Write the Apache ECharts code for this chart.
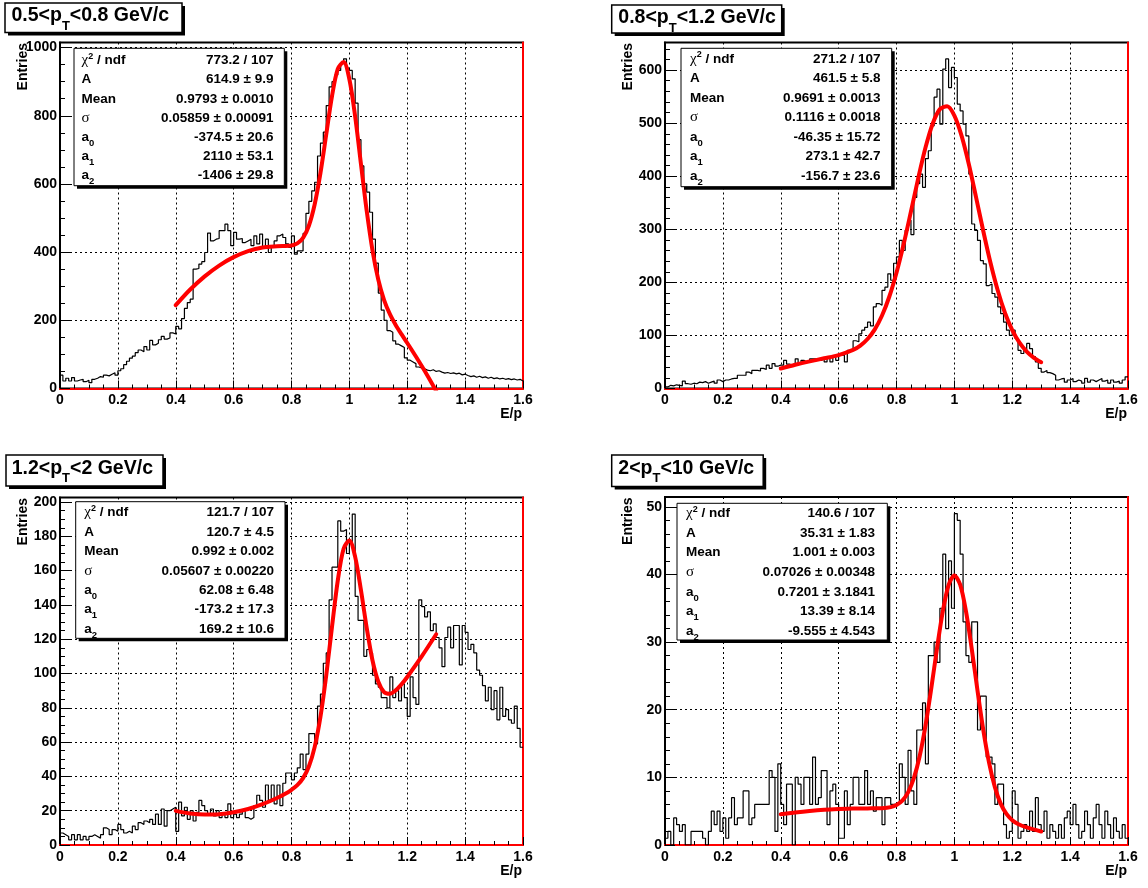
<!DOCTYPE html>
<html><head><meta charset="utf-8">
<script src="https://cdn.jsdelivr.net/npm/echarts@6/dist/echarts.min.js"></script>
<style>html,body{margin:0;padding:0;background:#fff}#c{width:1148px;height:888px}</style>
</head><body><div id="c"></div>
<script>
// ---------------- data ----------------
const BIN_WIDTH = 0.01;          // histogram bin width (160 bins from 0 to 1.6)
const X_MIN = 0, X_MAX = 1.6, X_INTERVAL = 0.2;

const hist1 = [39,22,30,22,32,22,25,27,20,24,
 17,27,30,35,33,39,37,42,46,39,
 52,58,70,80,89,95,105,113,108,123,
 113,141,128,133,143,153,145,148,163,160,
 182,175,205,235,252,262,350,352,365,372,
 399,456,433,438,440,463,463,482,463,419,
 458,438,440,428,433,438,419,448,424,453,
 414,438,399,419,433,448,453,443,424,414,
 448,394,404,404,455,514,549,580,605,682,
 720,752,830,885,900,920,933,953,967,940,
 933,908,837,730,653,600,576,517,438,368,
 280,230,200,170,165,140,130,125,120,90,
 83,78,73,63,60,58,54,52,55,50,
 52,48,45,47,44,46,43,45,40,42,
 38,35,37,33,36,32,34,30,33,29,
 31,28,30,27,29,26,28,25,27,22];

const hist2 = [3,6,5,7,6,5,14,9,8,10,
 9,12,11,13,10,12,14,10,16,13,
 16,16,18,19,19,25,25,25,31,28,
 34,34,33,38,36,44,38,47,42,44,
 44,53,46,44,47,56,47,53,50,50,
 56,56,56,53,56,50,60,50,60,53,
 63,63,50,72,72,90,88,103,110,115,
 125,118,154,160,157,185,191,216,204,236,
 248,279,260,298,317,290,360,386,404,379,
 433,448,495,549,564,498,602,621,567,605,
 586,536,523,498,476,404,310,298,279,241,
 235,194,197,179,172,154,141,125,110,100,
 110,94,72,66,72,85,75,60,50,38,
 31,34,30,28,25,16,18,19,12,16,
 19,13,16,14,10,19,12,16,13,16,
 19,14,16,10,16,12,14,10,16,22];

const hist3 = [7,6,5,3,6,3,6,3,5,3,
 5,6,5,4,6,10,9,6,9,8,
 12,9,7,8,7,11,9,13,12,14,
 13,15,12,18,12,21,11,20,21,22,
 8,25,17,22,15,20,14,19,26,23,
 20,18,21,17,20,16,18,16,24,16,
 18,16,18,20,16,15,16,23,29,26,
 22,35,26,35,24,35,23,36,42,42,
 38,42,45,53,44,53,65,65,59,81,
 88,106,112,143,162,162,189,183,184,170,
 176,193,145,131,131,110,114,112,99,94,
 92,86,86,80,98,86,90,84,94,86,
 75,98,86,82,143,139,133,136,125,129,
 121,115,104,121,127,115,128,128,105,128,
 124,114,117,112,102,99,93,84,92,79,
 90,73,92,75,79,73,71,81,68,57];

const hist4 = [1,2,0,4,3,2,3,0,0,2,
 2,2,2,1,0,2,5,3,5,2,
 4,1,4,7,3,4,4,8,8,3,
 4,6,6,6,6,6,11,10,2,12,
 6,3,9,9,0,10,9,6,10,10,
 6,13,6,7,11,11,3,8,9,6,
 1,1,8,3,6,10,10,6,6,11,
 6,8,5,7,7,3,7,7,6,6,
 6,12,10,6,14,8,6,17,17,21,
 12,28,28,30,27,35,43,32,42,35,
 49,48,43,33,28,27,33,33,17,22,
 22,13,13,12,6,9,9,3,1,2,
 8,6,1,2,3,2,5,2,7,3,
 2,5,1,3,2,1,3,1,4,5,
 3,6,3,1,2,5,3,1,4,6,
 3,1,5,3,1,4,2,1,3,1];

// fitted curves (Gaussian + pol2), sampled values
const fit1X = [0.40,0.45,0.50,0.55,0.60,0.65,0.70,0.75,0.80,0.82,0.84,0.86,0.88,0.90,0.92,0.94,0.96,0.98,1.00,1.02,1.04,1.06,1.08,1.10,1.12,1.14,1.16,1.18,1.20,1.22,1.24,1.26,1.28,1.30];
const fit1Y = [244.5,290.3,329.0,360.7,385.3,403.0,413.6,417.1,419.4,425.5,442.1,477.4,539.7,631.7,745.1,857.7,937.7,957.9,907.2,798.1,658.7,520.4,404.7,318.9,259.4,218.0,186.5,159.3,133.4,107.0,80.0,51.9,22.7,-7.6];

const fit2X = [0.40,0.45,0.50,0.55,0.60,0.65,0.675,0.70,0.725,0.75,0.775,0.80,0.825,0.85,0.875,0.90,0.925,0.95,0.975,1.00,1.025,1.05,1.075,1.10,1.125,1.15,1.175,1.20,1.225,1.25,1.275,1.30];
const fit2Y = [37.8,44.8,51.1,56.9,63.0,72.7,80.9,93.3,111.5,137.5,172.9,218.3,272.8,333.7,396.0,453.5,499.0,526.5,531.8,514.2,476.0,422.5,360.3,296.4,236.5,184.6,142.3,110.0,86.4,69.6,57.9,49.6];

const fit3X = [0.40,0.45,0.50,0.55,0.60,0.65,0.70,0.75,0.78,0.80,0.82,0.84,0.86,0.88,0.90,0.92,0.94,0.96,0.98,1.00,1.02,1.04,1.06,1.08,1.10,1.12,1.14,1.16,1.18,1.20,1.25,1.30];
const fit3Y = [19.9,18.4,17.8,18.0,19.1,21.0,23.8,27.4,30.0,32.2,34.9,39.0,45.8,57.1,74.7,98.9,127.3,154.3,172.8,177.6,168.0,148.6,126.5,107.6,95.2,89.2,88.2,90.2,93.7,98.0,110.0,122.9];

const fit4X = [0.40,0.45,0.50,0.55,0.60,0.65,0.70,0.75,0.78,0.80,0.82,0.84,0.86,0.88,0.90,0.92,0.94,0.96,0.98,1.00,1.02,1.04,1.06,1.08,1.10,1.12,1.14,1.16,1.18,1.20,1.22,1.25,1.30];
const fit4Y = [4.55,4.81,5.03,5.20,5.31,5.39,5.41,5.45,5.60,5.91,6.55,7.78,9.88,13.12,17.60,23.12,29.09,34.55,38.43,39.86,38.48,34.58,29.00,22.81,16.98,12.14,8.56,6.12,4.59,3.67,3.11,2.60,1.99];

// y axis settings per panel
const yMaxes = [1015, 652, 202.65, 51.45];
const yIntervals = [200, 100, 20, 10];
const yMinorSplits = [4, 5, 4, 5];

// titles: [before subscript, subscript, after subscript]
const titles = [['0.5<p','T','<0.8 GeV/c'], ['0.8<p','T','<1.2 GeV/c'], ['1.2<p','T','<2 GeV/c'], ['2<p','T','<10 GeV/c']];

const stats1 = ['773.2 / 107','614.9 ± 9.9','0.9793 ± 0.0010','0.05859 ± 0.00091','-374.5 ± 20.6','2110 ± 53.1','-1406 ± 29.8'];
const stats2 = ['271.2 / 107','461.5 ± 5.8','0.9691 ± 0.0013','0.1116 ± 0.0018','-46.35 ± 15.72','273.1 ± 42.7','-156.7 ± 23.6'];
const stats3 = ['121.7 / 107','120.7 ± 4.5','0.992 ± 0.002','0.05607 ± 0.00220','62.08 ± 6.48','-173.2 ± 17.3','169.2 ± 10.6'];
const stats4 = ['140.6 / 107','35.31 ± 1.83','1.001 ± 0.003','0.07026 ± 0.00348','0.7201 ± 3.1841','13.39 ± 8.14','-9.555 ± 4.543'];
const statLabels = ['{g|χ}{sup|2}{b| / ndf}','{b|A}','{b|Mean}','{g|σ}','{b|a}{sub|0}','{b|a}{sub|1}','{b|a}{sub|2}'];

const xTitle = 'E/p';
const yTitle = 'Entries';

// ---------------- layout ----------------
const layout = [
  {grid:{left:60, top:42.5, width:463, height:346},
   tBox:[5,3,177,29.5], tX:11.5, tCY:16,
   sBox:[74,48.3,210.3,137.4], sL:81.5, sR:273.5, sY0:60.5, sDY:19.2,
   yTx:23.5},
  {grid:{left:665, top:42.5, width:463, height:346},
   tBox:[611.7,5,170,28], tX:618.3, tCY:18,
   sBox:[681,48.3,210.7,138.4], sL:690, sR:880.5, sY0:59, sDY:19.5,
   yTx:628},
  {grid:{left:60, top:497.5, width:463, height:347.5},
   tBox:[6,455,157,31], tX:11.7, tCY:468.5,
   sBox:[75.7,501.7,209.3,136.6], sL:84.3, sR:274, sY0:512.5, sDY:19.45,
   yTx:23.5},
  {grid:{left:665, top:497, width:463, height:348},
   tBox:[611.7,455,151.5,31.5], tX:618.3, tCY:468.5,
   sBox:[677,503.3,210.3,136.7], sL:686, sR:875, sY0:513.5, sDY:19.6,
   yTx:628}
];

const FONT = '"Liberation Sans", Arial, Helvetica, sans-serif';
const hists = [hist1, hist2, hist3, hist4];
const fits = [[fit1X, fit1Y], [fit2X, fit2Y], [fit3X, fit3Y], [fit4X, fit4Y]];
const stats = [stats1, stats2, stats3, stats4];

function histData(vals) {
  const d = vals.map((v, i) => [+(i * BIN_WIDTH).toFixed(2), v]);
  d.push([+(vals.length * BIN_WIDTH).toFixed(2), vals[vals.length - 1]]);
  return d;
}

const grids = [], xAxes = [], yAxes = [], series = [], graphics = [];
const dotted = {color:'#000', width:1, type:[2,3]};

layout.forEach((L, i) => {
  grids.push(Object.assign({show:true, borderColor:'#000', borderWidth:2, backgroundColor:'#fff'}, L.grid));
  xAxes.push({
    type:'value', gridIndex:i, min:X_MIN, max:X_MAX, interval:X_INTERVAL, position:'bottom',
    axisLine:{show:true, onZero:false, lineStyle:{color:'#ff0000', width:2}},
    axisTick:{show:true, inside:true, length:8, lineStyle:{color:'#000', width:1}},
    minorTick:{show:true, splitNumber:4, length:4, lineStyle:{color:'#000', width:1}},
    axisLabel:{color:'#000', fontFamily:FONT, fontWeight:'bold', fontSize:14, margin:5,
      formatter: v => String(+(+v).toFixed(1))},
    splitLine:{show:true, lineStyle:dotted}
  });
  yAxes.push({
    type:'value', gridIndex:i, min:0, max:yMaxes[i], interval:yIntervals[i], position:'left',
    axisLine:{show:true, onZero:false, lineStyle:{color:'#000', width:2}},
    axisTick:{show:true, inside:true, length:10, lineStyle:{color:'#000', width:1}},
    minorTick:{show:true, splitNumber:yMinorSplits[i], length:5, lineStyle:{color:'#000', width:1}},
    axisLabel:{color:'#000', fontFamily:FONT, fontWeight:'bold', fontSize:14, margin:3, showMaxLabel:false,
      formatter: v => String(Math.round(v))},
    splitLine:{show:true, lineStyle:dotted}
  });
});
layout.forEach((L, i) => {
  yAxes.push({
    type:'value', gridIndex:i, min:0, max:yMaxes[i], position:'right',
    axisLine:{show:true, onZero:false, lineStyle:{color:'#ff0000', width:2}},
    axisTick:{show:false}, axisLabel:{show:false}, splitLine:{show:false}
  });
});

layout.forEach((L, i) => {
  series.push({
    type:'line', xAxisIndex:i, yAxisIndex:i, step:'end', data:histData(hists[i]),
    symbol:'none', lineStyle:{color:'#000', width:1.2}, itemStyle:{color:'#000'}, z:3, silent:true
  });
  series.push({
    type:'line', xAxisIndex:i, yAxisIndex:i, smooth:0.3,
    data:fits[i][0].map((x, k) => [x, fits[i][1][k]]),
    symbol:'none', lineStyle:{color:'#ff0000', width:4, cap:'round', join:'round'}, itemStyle:{color:'#ff0000'}, z:4, silent:true
  });

  // title box
  const [bx, by, bw, bh] = L.tBox;
  graphics.push({type:'rect', z:100, shape:{x:bx+3, y:by+3, width:bw, height:bh}, style:{fill:'#000'}});
  graphics.push({type:'rect', z:101, shape:{x:bx, y:by, width:bw, height:bh}, style:{fill:'#fff', stroke:'#000', lineWidth:1.5}});
  const t = titles[i];
  graphics.push({type:'text', z:102, x:L.tX, y:L.tCY - 12, style:{
    text:'{n|' + t[0] + '}{s|' + t[1] + '}{n|' + t[2] + '}',
    align:'left', verticalAlign:'top', fill:'#000',
    rich:{
      n:{font:'bold 19.5px ' + FONT, fill:'#000', height:24, lineHeight:24, verticalAlign:'top'},
      s:{font:'bold 13px ' + FONT, fill:'#000', height:14, lineHeight:29, verticalAlign:'bottom'}
    }}});

  // stats box
  const [sx, sy, sw, sh] = L.sBox;
  graphics.push({type:'rect', z:100, shape:{x:sx+3, y:sy+3, width:sw, height:sh}, style:{fill:'#000'}});
  graphics.push({type:'rect', z:101, shape:{x:sx, y:sy, width:sw, height:sh}, style:{fill:'#fff', stroke:'#000', lineWidth:1}});
  statLabels.forEach((lab, r) => {
    const cy = L.sY0 + r * L.sDY;
    graphics.push({type:'text', z:102, x:L.sL, y:cy - 8, style:{
      text:lab, align:'left', verticalAlign:'top', fill:'#000',
      rich:{
        b:{font:'bold 13.5px ' + FONT, fill:'#000', height:16, lineHeight:16, verticalAlign:'top'},
        g:{font:'15px "Liberation Serif", "DejaVu Serif", serif', fill:'#000', height:16, lineHeight:16, verticalAlign:'top'},
        sup:{font:'bold 9px ' + FONT, fill:'#000', height:8, lineHeight:8, verticalAlign:'top'},
        sub:{font:'bold 9.5px ' + FONT, fill:'#000', height:12, lineHeight:20, verticalAlign:'bottom'}
      }}});
    graphics.push({type:'text', z:102, x:L.sR, y:cy, style:{
      text:stats[i][r], align:'right', verticalAlign:'middle', fill:'#000', font:'bold 13.5px ' + FONT}});
  });

  // axis titles
  const g = L.grid;
  graphics.push({type:'text', z:102, x:L.yTx, y:g.top + 0.5, rotation:Math.PI/2, style:{
    text:yTitle, align:'right', verticalAlign:'middle', fill:'#000', font:'bold 14px ' + FONT}});
  graphics.push({type:'text', z:102, x:g.left + g.width - 1, y:g.top + g.height + 19, style:{
    text:xTitle, align:'right', verticalAlign:'top', fill:'#000', font:'bold 14px ' + FONT}});
});

const chart = echarts.init(document.getElementById('c'), null, {renderer:'canvas'});
chart.setOption({
  animation:false,
  backgroundColor:'#fff',
  grid:grids, xAxis:xAxes, yAxis:yAxes, series:series, graphic:graphics
});
</script></body></html>
